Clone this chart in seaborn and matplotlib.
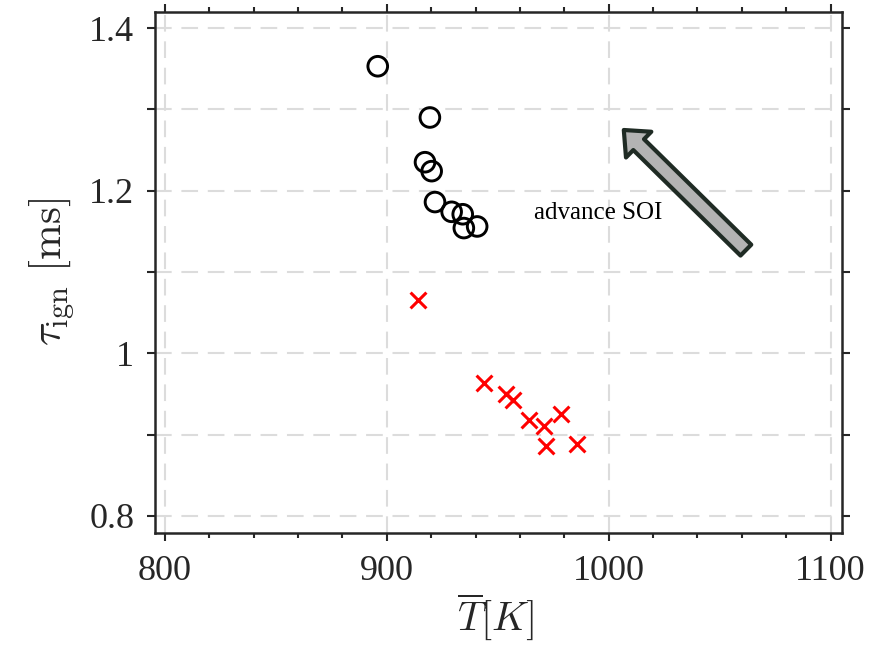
import matplotlib
matplotlib.use("Agg")
import matplotlib.pyplot as plt
import seaborn as sns
import pandas as pd
from matplotlib.patches import FancyArrowPatch
from matplotlib.ticker import MultipleLocator

# Data
circle_T = [895.9, 919.4, 917.2, 920.2, 921.7, 929.2, 934.2, 934.7, 940.7]
circle_tau = [1.353, 1.290, 1.235, 1.224, 1.186, 1.174, 1.171, 1.154, 1.156]
cross_T = [914.2, 943.8, 953.7, 956.7, 964.0, 970.8, 978.3, 971.6, 985.5]
cross_tau = [1.065, 0.964, 0.950, 0.942, 0.918, 0.910, 0.925, 0.886, 0.888]
x_ticks = [800, 900, 1000, 1100]
y_ticks = [0.8, 1.0, 1.2, 1.4]
y_tick_labels = ["0.8", "1", "1.2", "1.4"]
annot_text = "advance SOI"

sns.set_theme(style="white")
plt.rcParams["font.family"] = ["Liberation Serif", "DejaVu Serif"]
plt.rcParams["mathtext.fontset"] = "cm"
plt.rcParams["lines.scale_dashes"] = False

fig = plt.figure(figsize=(8.83, 6.49), dpi=100)
ax = fig.add_axes([0.1755, 0.1787, 0.778, 0.8028])

df_c = pd.DataFrame({"T": circle_T, "tau": circle_tau})
df_x = pd.DataFrame({"T": cross_T, "tau": cross_tau})

sns.scatterplot(data=df_c, x="T", y="tau", ax=ax, marker="o", s=200,
                facecolor="none", edgecolor="black", linewidth=2.1, zorder=3)
sns.scatterplot(data=df_x, x="T", y="tau", ax=ax, marker="x", s=130,
                color="red", linewidth=2.2, zorder=3)

ax.set_xlim(795.5, 1105.1)
ax.set_ylim(0.779, 1.4197)

ax.set_xticks(x_ticks)
ax.xaxis.set_minor_locator(MultipleLocator(20))
ax.set_yticks(y_ticks)
ax.set_yticklabels(y_tick_labels)
ax.yaxis.set_minor_locator(MultipleLocator(0.1))

spine_color = "#262626"
for sp in ax.spines.values():
    sp.set_color(spine_color)
    sp.set_linewidth(1.8)

ax.tick_params(which="both", direction="out", top=True, right=True,
               bottom=True, left=True, color=spine_color, width=1.5,
               labelsize=26, labelcolor="#262626")
ax.tick_params(which="major", length=6)
ax.tick_params(which="minor", length=3.5)
ax.tick_params(axis="y", which="minor", length=6)
ax.tick_params(axis="x", which="major", pad=10)
ax.tick_params(axis="y", which="major", pad=9)

grid_style = dict(color="#dcdcdc", linewidth=1.5, linestyle=(0, (12, 7)))
ax.grid(True, axis="x", which="major", **grid_style)
ax.grid(True, axis="y", which="both", **grid_style)
ax.set_axisbelow(True)

ax.set_xlabel(r"$\overline{T}[K]$", fontsize=29, color="#262626")
ax.set_ylabel(r"$\tau_{\rm ign}\ [\rm ms]$", fontsize=31, color="#262626")
ax.xaxis.set_label_coords(0.4956, -0.112)
ax.yaxis.set_label_coords(-0.1135, 0.501)

arrow = FancyArrowPatch((1062.7, 1.1245), (1005.9, 1.277),
                        arrowstyle="simple,head_length=15,head_width=26,tail_width=11",
                        mutation_scale=1, facecolor="#b3b3b3",
                        edgecolor="#1f2b24", linewidth=3.0, zorder=4)
ax.add_patch(arrow)
ax.text(995.1, 1.172, annot_text, fontsize=18, ha="center", va="center",
        color="black")

fig.savefig("out.png", dpi=100)
